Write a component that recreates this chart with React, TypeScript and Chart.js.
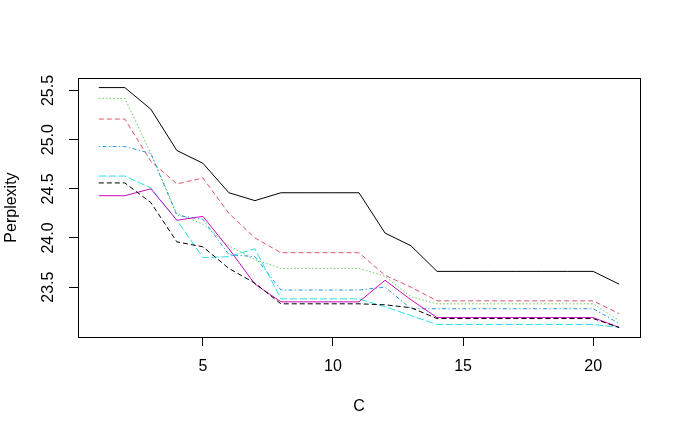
import React, { useEffect, useRef } from "react";
import { Chart, registerables } from "chart.js";

Chart.register(...registerables);

// ---- data ----
const C = [1, 2, 3, 4, 5, 6, 7, 8, 9, 10, 11, 12, 13, 14, 15, 16, 17, 18, 19, 20, 21];

const s1 = [25.53, 25.53, 25.31, 24.89, 24.76, 24.46, 24.38, 24.46, 24.46, 24.46, 24.46, 24.05, 23.92, 23.66, 23.66, 23.66, 23.66, 23.66, 23.66, 23.66, 23.53];
const s2 = [25.21, 25.21, 24.78, 24.55, 24.61, 24.25, 24.0, 23.85, 23.85, 23.85, 23.85, 23.62, 23.5, 23.36, 23.36, 23.36, 23.36, 23.36, 23.36, 23.36, 23.23];
const s3 = [25.42, 25.42, 24.86, 24.25, 24.14, 23.92, 23.78, 23.69, 23.69, 23.69, 23.69, 23.61, 23.4, 23.33, 23.33, 23.33, 23.33, 23.33, 23.33, 23.33, 23.16];
const s4 = [24.93, 24.93, 24.86, 24.23, 24.19, 23.83, 23.81, 23.47, 23.47, 23.47, 23.47, 23.5, 23.28, 23.28, 23.28, 23.28, 23.28, 23.28, 23.28, 23.28, 23.13];
const s5 = [24.63, 24.63, 24.51, 24.18, 23.8, 23.81, 23.89, 23.38, 23.38, 23.38, 23.38, 23.3, 23.21, 23.12, 23.12, 23.12, 23.12, 23.12, 23.12, 23.12, 23.09];
const s6 = [24.43, 24.43, 24.5, 24.18, 24.22, 23.89, 23.53, 23.35, 23.35, 23.35, 23.35, 23.57, 23.37, 23.19, 23.19, 23.19, 23.19, 23.19, 23.19, 23.19, 23.09];
const s7 = [24.56, 24.56, 24.36, 23.96, 23.91, 23.69, 23.54, 23.33, 23.33, 23.33, 23.33, 23.32, 23.29, 23.18, 23.18, 23.18, 23.18, 23.18, 23.18, 23.18, 23.09];

const xTicks = [5, 10, 15, 20];
const yTicks = [23.5, 24.0, 24.5, 25.0, 25.5];
const yTickLabels = ["23.5", "24.0", "24.5", "25.0", "25.5"];

const xTitle = "C";
const yTitle = "Perplexity";

const FONT = '"Liberation Sans", Arial, sans-serif';

const seriesList = [s1, s2, s3, s4, s5, s6, s7];
const colors = ["#000000", "#DF536B", "#61D04F", "#2297E6", "#28E2E5", "#CD0BBC", "#000000"];
const dashes: number[][] = [[], [5, 3], [1.5, 2.1], [1.3, 2.4, 4, 2.4], [7.5, 2.5], [], [5, 3]];

const boxPlugin = {
  id: "rbox",
  afterDraw(chart: any) {
    const { ctx, chartArea: a, scales } = chart;
    ctx.save();
    ctx.strokeStyle = "#000";
    ctx.lineWidth = 1;
    ctx.setLineDash([]);
    const l = Math.round(a.left) + 0.5;
    const t = Math.round(a.top) + 0.5;
    const r = Math.round(a.right) + 0.5;
    const b = Math.round(a.bottom) + 0.5;
    ctx.strokeRect(l, t, r - l, b - t);
    ctx.fillStyle = "#000";
    ctx.font = `16px ${FONT}`;
    ctx.textAlign = "center";
    ctx.textBaseline = "middle";
    yTicks.forEach((v, i) => {
      const y = scales.y.getPixelForValue(v);
      ctx.save();
      ctx.translate(49, y);
      ctx.rotate(-Math.PI / 2);
      ctx.fillText(yTickLabels[i], 0, 0);
      ctx.restore();
    });
    ctx.restore();
  },
};

export default function App() {
  const ref = useRef<HTMLCanvasElement | null>(null);

  useEffect(() => {
    if (!ref.current) return;
    const all = seriesList.flat();
    const lo = Math.min(...all);
    const hi = Math.max(...all);
    const pad = (hi - lo) * 0.04;
    const xPad = (C[C.length - 1] - C[0]) * 0.04;

    const chart = new Chart(ref.current, {
      type: "line",
      data: {
        datasets: seriesList.map((s, i) => ({
          data: s.map((v, j) => ({ x: C[j], y: v })),
          borderColor: colors[i],
          backgroundColor: colors[i],
          borderWidth: 1,
          borderDash: dashes[i],
          borderCapStyle: "butt" as const,
          pointRadius: 0,
          pointHoverRadius: 0,
          tension: 0,
          fill: false,
          order: seriesList.length - i,
        })),
      },
      options: {
        animation: false,
        responsive: false,
        maintainAspectRatio: false,
        events: [],
        layout: { padding: { top: 78, right: 41, left: 0, bottom: 0 } },
        plugins: { legend: { display: false }, tooltip: { enabled: false } },
        scales: {
          x: {
            type: "linear",
            min: C[0] - xPad,
            max: C[C.length - 1] + xPad,
            afterBuildTicks: (scale: any) => {
              scale.ticks = xTicks.map((v) => ({ value: v }));
            },
            afterFit: (scale: any) => {
              scale.height = 98;
            },
            grid: {
              drawOnChartArea: false,
              drawTicks: true,
              tickLength: 9,
              color: "#000",
              lineWidth: 1,
            },
            border: { display: true, color: "#000", width: 1 },
            ticks: {
              color: "#000",
              font: { family: FONT, size: 16 },
              padding: 11,
              maxRotation: 0,
              autoSkip: false,
              callback: (v: any) => String(v),
            },
            title: {
              display: true,
              text: xTitle,
              color: "#000",
              font: { family: FONT, size: 16 },
              padding: { top: 0, bottom: 19 },
            },
          },
          y: {
            type: "linear",
            min: lo - pad,
            max: hi + pad,
            afterBuildTicks: (scale: any) => {
              scale.ticks = yTicks.map((v) => ({ value: v }));
            },
            afterFit: (scale: any) => {
              scale.width = 78;
            },
            grid: {
              drawOnChartArea: false,
              drawTicks: true,
              tickLength: 9,
              color: "#000",
              lineWidth: 1,
            },
            border: { display: true, color: "#000", width: 1 },
            ticks: { display: false },
            title: {
              display: true,
              text: yTitle,
              color: "#000",
              font: { family: FONT, size: 16 },
              padding: { top: 2.4, bottom: 0 },
            },
          },
        },
      },
      plugins: [boxPlugin],
    });
    return () => chart.destroy();
  }, []);

  return (
    <div style={{ position: "absolute", left: 0, top: 0, width: 681, height: 435, background: "#fff" }}>
      <canvas ref={ref} width={681} height={435} style={{ width: 681, height: 435, display: "block" }} />
    </div>
  );
}
